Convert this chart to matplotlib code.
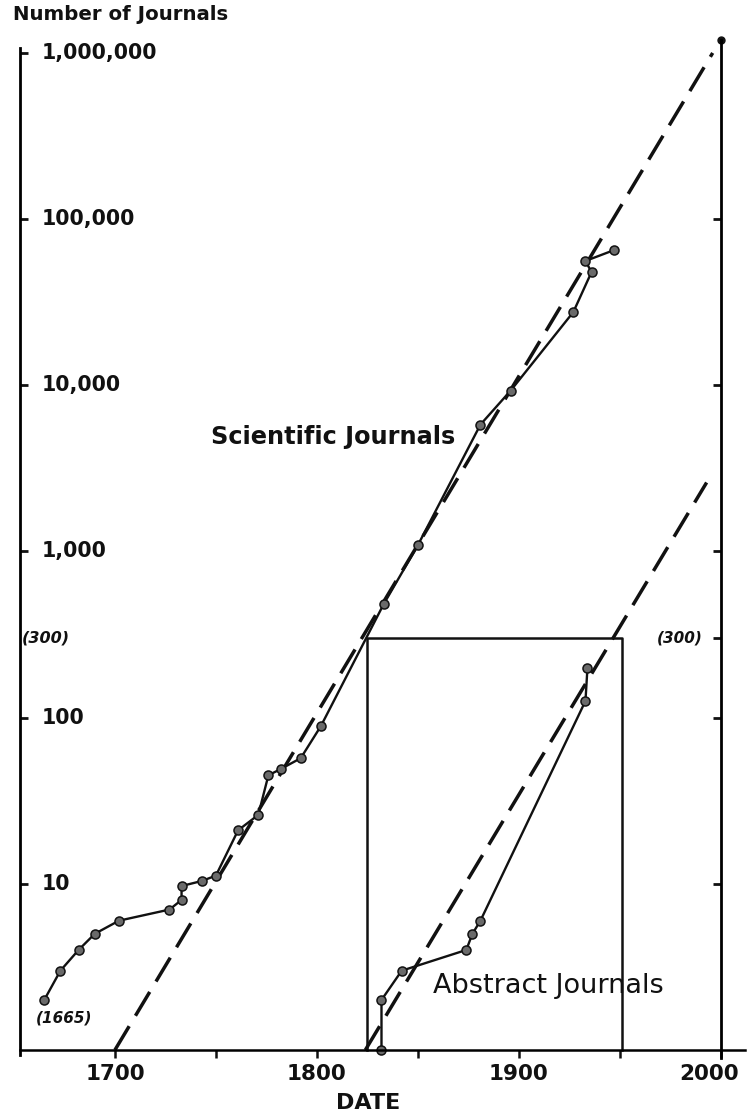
import matplotlib
matplotlib.use("Agg")
import matplotlib.pyplot as plt
from matplotlib.ticker import NullLocator
from matplotlib.transforms import ScaledTranslation

# scientific journals
sci_years = [1665, 1673, 1682, 1690, 1702, 1727, 1733, 1733, 1743, 1750, 1761, 1771,
             1776, 1782, 1792, 1802, 1833, 1850, 1881, 1896, 1927, 1936, 1933, 1947]
sci_vals = [2, 3, 4, 5, 6, 7, 8, 9.7, 10.4, 11.2, 21, 26,
            45, 49, 57, 89, 480, 1090, 5800, 9300, 27600, 48000, 56000, 65000]

# abstract journals
abs_years = [1832, 1832, 1842, 1874, 1877, 1881, 1933, 1934]
abs_vals = [1, 2, 3, 4, 5, 6, 126, 200]

# dashed trend lines (start, end)
sci_trend_years = [1700, 1996]
sci_trend_vals = [1, 1000000]
abs_trend_years = [1824, 1993]
abs_trend_vals = [1, 2600]

# box marking the 300 level
box_years = [1825, 1825, 1951, 1951]
box_vals = [1, 300, 300, 1]

ytick_vals = [10, 100, 1000, 10000, 100000, 1000000]
ytick_labels = ["10", "100", "1,000", "10,000", "100,000", "1,000,000"]
xtick_major = [1700, 1800, 1900, 2000]
xtick_minor = [1750, 1850, 1950]

plt.rcParams['font.family'] = ['DejaVu Sans']

W, H = 747, 1114
fig = plt.figure(figsize=(W / 100, H / 100), dpi=100)
ax = fig.add_axes([20 / W, 1 - 1050 / H, 725 / W, (1050 - 38) / H])
ax.set_yscale('log')
ax.set_xlim(1653, 2012)
ax.set_ylim(1, 1.23e6)

ink = '#111111'

# dashed trends
ax.plot(sci_trend_years, sci_trend_vals, color=ink, lw=2.5, dashes=(8, 3.5))
ax.plot(abs_trend_years, abs_trend_vals, color=ink, lw=2.5, dashes=(8, 3.5))

# box
ax.plot(box_years, box_vals, color=ink, lw=1.8, clip_on=False)

# data
ax.plot(sci_years, sci_vals, color=ink, lw=1.7, marker='o', ms=6.5,
        mfc='#6a6a6a', mec=ink, mew=1.1, clip_on=False)
ax.plot(abs_years, abs_vals, color=ink, lw=1.7, marker='o', ms=6.5,
        mfc='#6a6a6a', mec=ink, mew=1.1, clip_on=False)

# spines
for s in ['top', 'right']:
    ax.spines[s].set_visible(False)
ax.spines['left'].set_linewidth(2.0)
ax.spines['bottom'].set_linewidth(1.8)
ax.spines['left'].set_bounds(0.93, 1.07e6)

# y ticks inside, labels to the right of the spine
ax.set_yticks(ytick_vals)
ax.set_yticklabels(ytick_labels)
ax.yaxis.set_minor_locator(NullLocator())
ax.tick_params(axis='y', direction='in', length=6, width=2, pad=-15.5,
               labelsize=14.8, colors=ink)
for lab in ax.get_yticklabels():
    lab.set_horizontalalignment('left')
    lab.set_fontweight('bold')
    lab.set_verticalalignment('center')

# x ticks
ax.set_xticks(xtick_major)
ax.set_xticks(xtick_minor, minor=True)
ax.tick_params(axis='x', which='both', direction='out', length=6, width=1.8,
               labelsize=15.5, colors=ink, pad=4)
for lab in ax.get_xticklabels():
    lab.set_fontweight('bold')
# the 2000 label sits a little left of its tick
last = ax.xaxis.get_major_ticks()[-1].label1
last.set_transform(last.get_transform() + ScaledTranslation(-0.12, 0, fig.dpi_scale_trans))

# right-hand axis at 2000
ax2 = ax.twinx()
ax2.set_yscale('log')
ax2.set_ylim(ax.get_ylim())
for s in ['top', 'left', 'bottom']:
    ax2.spines[s].set_visible(False)
ax2.spines['right'].set_position(('data', 2000))
ax2.spines['right'].set_bounds(0.9, 1.2e6)
ax2.spines['right'].set_linewidth(2.0)
ax2.set_yticks([10, 100, 300, 1000, 10000, 100000])
ax2.set_yticklabels([])
ax2.yaxis.set_minor_locator(NullLocator())
ax2.tick_params(axis='y', direction='in', length=6, width=2, colors=ink)
ax.plot([2000], [1.2e6], 'o', color=ink, ms=5, clip_on=False)

# texts
fig.text(13 / W, 1 - 14 / H, "Number of Journals", fontsize=14.2, fontweight='bold',
         color=ink, ha='left', va='center')
ax.text(1747.5, 4860, "Scientific Journals", fontsize=17.3, fontweight='bold',
        color=ink, ha='left', va='center')
ax.text(1857.5, 2.43, "Abstract Journals", fontsize=19.5, color=ink,
        ha='left', va='center')
ax.text(1675, 1.55, "(1665)", fontsize=11, style='italic', fontweight='bold',
        color=ink, ha='center', va='center')
ax.text(1654, 300, "(300)", fontsize=11.5, style='italic', fontweight='bold',
        color=ink, ha='left', va='center')
ax.text(1991, 300, "(300)", fontsize=11, style='italic', fontweight='bold',
        color=ink, ha='right', va='center')
fig.text(368 / W, 1 - 1103 / H, "DATE", fontsize=16, fontweight='bold',
         color=ink, ha='center', va='center')

fig.savefig("out.png", dpi=100)
